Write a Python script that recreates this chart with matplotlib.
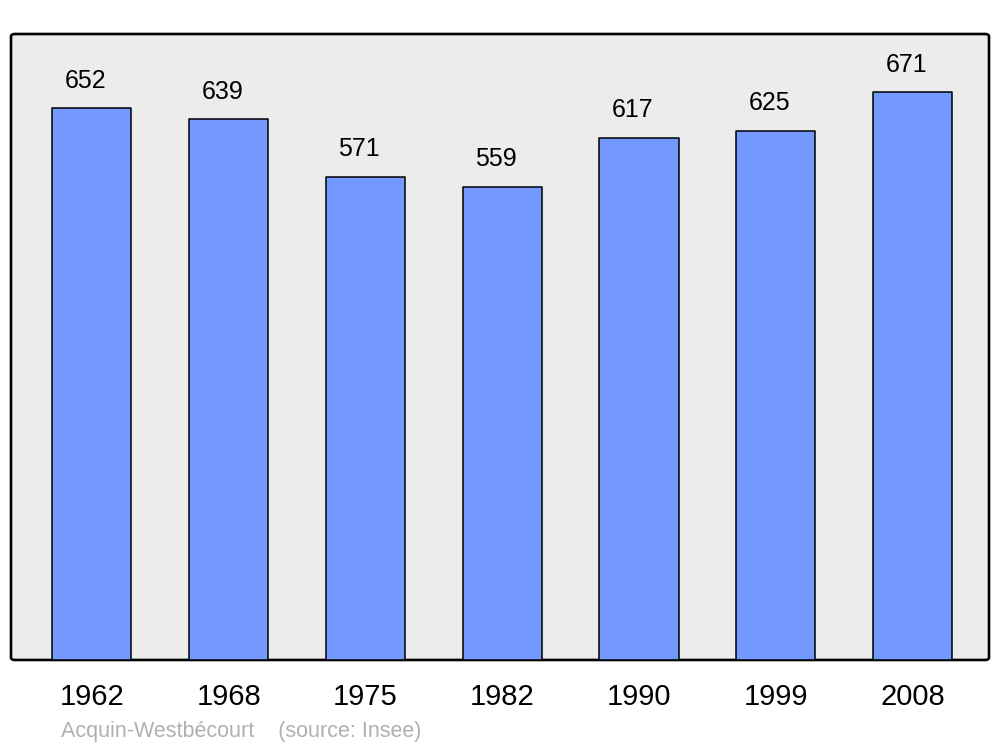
import matplotlib
matplotlib.use("Agg")
import matplotlib.pyplot as plt
from matplotlib.patches import FancyBboxPatch

years = ["1962", "1968", "1975", "1982", "1990", "1999", "2008"]
population = [652, 639, 571, 559, 617, 625, 671]
footer = "Acquin-Westbécourt    (source: Insee)"

plt.rcParams["font.family"] = ["Liberation Sans", "DejaVu Sans"]

fig = plt.figure(figsize=(10, 7.47), dpi=100)
ax = fig.add_axes([0.011, 0.1165, 0.978, 0.8380])
ax.set_facecolor("none")

bg = FancyBboxPatch((0, 0), 1, 1, boxstyle="round,pad=0,rounding_size=0.004",
                    transform=ax.transAxes, facecolor="#ececec", edgecolor="black",
                    linewidth=1.9, zorder=0, clip_on=False)
ax.add_patch(bg)

x = list(range(len(years)))
bars = ax.bar(x, population, width=0.578, color="#7399ff", edgecolor="black",
              linewidth=1.1, zorder=2, joinstyle="round")
for xi, v in zip(x, population):
    ax.annotate(str(v), (xi, v), xytext=(-4.5, 20), textcoords="offset points",
                ha="center", va="center", fontsize=18, color="black")

ax.set_xlim(-0.592, 6.559)
ax.set_ylim(0, 740)
ax.set_xticks(x)
ax.set_xticklabels(years, fontsize=21)
ax.tick_params(axis="x", length=0, pad=16.5)
ax.set_yticks([])
for s in ax.spines.values():
    s.set_visible(False)

fig.text(0.061, 1 - 731 / 747, footer, fontsize=15.5, color="#b0b0b0",
         ha="left", va="center")

fig.savefig("out.png", dpi=100)
